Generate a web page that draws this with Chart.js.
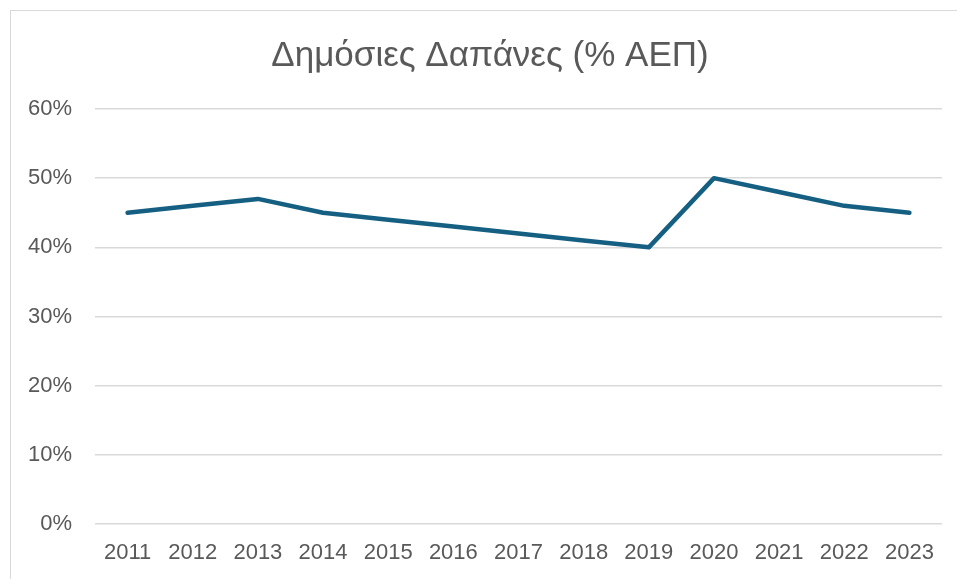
<!DOCTYPE html>
<html>
<head>
<meta charset="utf-8">
<script src="https://cdn.jsdelivr.net/npm/chart.js@4.4.1/dist/chart.umd.min.js"></script>
<style>
    html, body { margin: 0; padding: 0; background: #fff; overflow: hidden; }
    #frame { position: absolute; left: 10px; top: 10px; width: 1000px; height: 1000px; border: 1px solid #d9d9d9; }
    #wrap { position: absolute; left: 0; top: 0; width: 957px; height: 579px; }
</style>
</head>
<body>
<div id="frame"></div>
<div id="wrap"><canvas id="chart"></canvas></div>
<script>
// Data
const years = ['2011', '2012', '2013', '2014', '2015', '2016', '2017', '2018', '2019', '2020', '2021', '2022', '2023'];
const spending = [45, 46, 47, 45, 44, 43, 42, 41, 40, 50, 48, 46, 45];
const yTicks = [0, 10, 20, 30, 40, 50, 60];

const titleText = 'Δημόσιες Δαπάνες (% ΑΕΠ)';
const textColor = '#595959';
const fontFamily = '"Liberation Sans", Arial, sans-serif';

// Center the title on the outer frame rather than on the canvas
const titleShift = {
    id: 'titleShift',
    afterLayout: chart => {
        if (chart.titleBlock) chart.titleBlock.left = 38;
    }
};

// Chart
const ctx = document.getElementById('chart');
new Chart(ctx, {
    type: 'line',
    data: {
        labels: years,
        datasets: [{
            label: titleText,
            data: spending,
            borderColor: '#156082',
            borderWidth: 4.5,
            pointRadius: 0,
            tension: 0,
            borderCapStyle: 'round',
            borderJoinStyle: 'round',
            fill: false
        }]
    },
    options: {
        responsive: true,
        maintainAspectRatio: false,
        animation: false,
        layout: {
            padding: { left: 0, right: 15, top: 0, bottom: 13 }
        },
        plugins: {
            legend: { display: false },
            tooltip: { enabled: false },
            title: {
                display: true,
                text: titleText,
                color: textColor,
                font: { family: fontFamily, size: 35, weight: 'normal' },
                padding: { top: 35, bottom: 32 }
            }
        },
        scales: {
            x: {
                offset: true,
                grid: { display: false, drawTicks: false },
                border: { display: false },
                afterFit: axis => { axis.height = 42; },
                ticks: {
                    color: textColor,
                    padding: 16,
                    maxRotation: 0,
                    autoSkip: false,
                    font: { family: fontFamily, size: 22 }
                }
            },
            y: {
                min: 0,
                max: 60,
                afterBuildTicks: axis => { axis.ticks = yTicks.map(v => ({ value: v })); },
                afterFit: axis => { axis.width = 95; },
                grid: { color: '#d9d9d9', lineWidth: 1.5, drawTicks: false },
                border: { display: false },
                ticks: {
                    color: textColor,
                    padding: 23,
                    font: { family: fontFamily, size: 22 },
                    callback: v => v + '%'
                }
            }
        }
    },
    plugins: [titleShift]
});
</script>
</body>
</html>
